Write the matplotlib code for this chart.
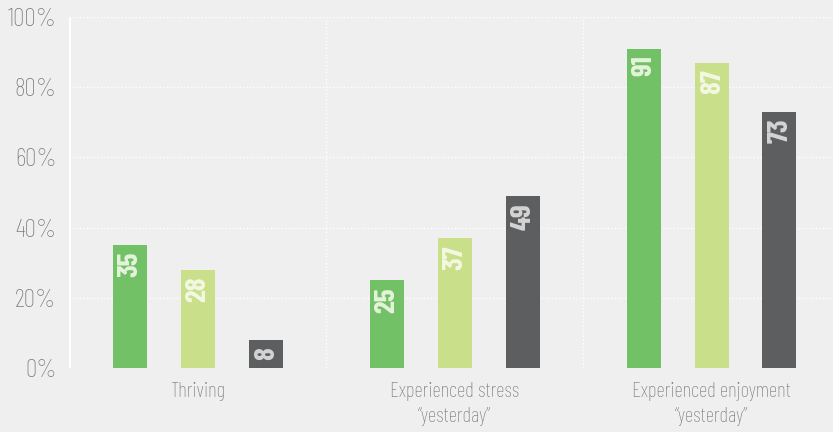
import matplotlib
matplotlib.use("Agg")
import matplotlib.pyplot as plt
import numpy as np

categories = ["Thriving", "Experienced stress\n\u201cyesterday\u201d", "Experienced enjoyment\n\u201cyesterday\u201d"]
series_a = [35, 25, 91]
series_b = [28, 37, 87]
series_c = [8, 49, 73]
y_ticks = [0, 20, 40, 60, 80, 100]
y_tick_labels = ["0%", "20%", "40%", "60%", "80%", "100%"]

colors = ["#72c167", "#c9df8a", "#5d5e60"]
label_colors = ["#e6f3dc", "#f2f8e2", "#d4d4d4"]
bg = "#efefef"

plt.rcParams['font.family'] = ['Barlow Condensed', 'DejaVu Sans']

W, H = 833, 432
fig = plt.figure(figsize=(W / 100, H / 100), dpi=100, facecolor=bg)
ax_left, ax_bottom = 69, 64
ax_w, ax_h = W - ax_left, 351
ax = fig.add_axes([ax_left / W, ax_bottom / H, ax_w / W, ax_h / H], facecolor=bg)

unit = 257.0  # pixels per category
ax.set_xlim(-0.5, -0.5 + ax_w / unit)
ax.set_ylim(0, 100)

x = np.arange(len(categories))
bar_w = 34 / unit
step = 68 / unit

# grid lines
for yv in y_ticks:
    ax.axhline(yv, color="white", lw=1, ls=(0, (1, 1.5)), zorder=1)
for xv in [0.5, 1.5]:
    ax.axvline(xv, color="white", lw=1, ls=(0, (1, 1.5)), zorder=1)
ax.axvline(-0.5, color="white", lw=2, zorder=1)

for i, (vals, c, lc) in enumerate(zip([series_a, series_b, series_c], colors, label_colors)):
    xs = x + (i - 1) * step
    ax.bar(xs, vals, width=bar_w, color=c, zorder=2)
    for xi, v in zip(xs, vals):
        ax.annotate(str(v), (xi, v), xytext=(0.5, -5), textcoords="offset points",
                    rotation=90, ha="center", va="top", color=lc,
                    fontsize=21, fontweight="bold", zorder=3)

for s in ax.spines.values():
    s.set_visible(False)

ax.set_yticks(y_ticks)
ax.set_yticklabels(y_tick_labels, fontsize=18.5, color="#7a7a7a", fontweight="light")
ax.set_xticks(x)
ax.set_xticklabels(categories, fontsize=15, color="#7a7a7a", fontweight="light", linespacing=1.42)
ax.tick_params(axis="both", length=0)
ax.tick_params(axis="y", pad=9)
ax.tick_params(axis="x", pad=10)

fig.savefig("out.png", dpi=100, facecolor=bg)
